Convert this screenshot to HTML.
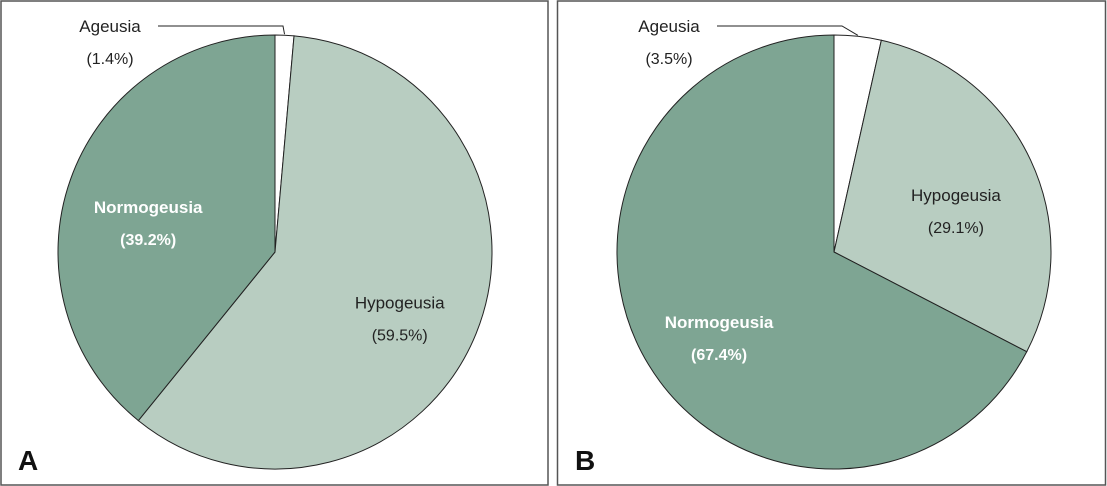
<!DOCTYPE html>
<html><head><meta charset="utf-8"><style>
body{margin:0;width:1107px;height:486px;background:#fff;overflow:hidden}
svg{display:block;font-family:"Liberation Sans",sans-serif}
</style></head><body>
<svg id="chart" width="1107" height="486">
<rect x="1" y="1" width="547" height="484" fill="none" stroke="#555" stroke-width="1.5"/>
<rect x="557.5" y="1" width="548" height="484" fill="none" stroke="#555" stroke-width="1.5"/>
<text x="18" y="470" font-size="28" font-weight="bold" fill="#111">A</text>
<text x="575" y="470" font-size="28" font-weight="bold" fill="#111">B</text>
</svg>
<script>
const categories=["Ageusia","Hypogeusia","Normogeusia"];
const valuesA=[1.4,59.5,39.2];
const valuesB=[3.5,29.1,67.4];
const colors=["#ffffff","#b8cdc1","#7ea593"];
const svg=document.getElementById('chart');
const NS="http://www.w3.org/2000/svg";
function mk(t,a){const e=document.createElementNS(NS,t);for(const k in a)e.setAttribute(k,a[k]);svg.appendChild(e);return e;}
function pt(cx,cy,r,f){const a=f*2*Math.PI;return[cx+r*Math.sin(a),cy-r*Math.cos(a)];}
function pie(vals,cx,cy,r,panel){
  const tot=vals.reduce((s,v)=>s+v,0);let acc=0;
  vals.forEach((v,i)=>{
    const f0=acc/tot,f1=(acc+v)/tot;acc+=v;
    const p0=pt(cx,cy,r,f0),p1=pt(cx,cy,r,f1);
    const large=(f1-f0)>0.5?1:0;
    const e=mk('path',{d:`M${cx},${cy}L${p0[0]},${p0[1]}A${r},${r} 0 ${large} 1 ${p1[0]},${p1[1]}Z`,fill:colors[i],stroke:'#222','stroke-width':1});
    
    
    const mid=(f0+f1)/2;
    let lx,ly,bold=false,fill='#222';
    if(i===0){
      const pe=pt(cx,cy,r,mid);
      const l=mk('polyline',{points:`${cx-117},${cy-226} ${cx+8},${cy-226} ${pe[0]},${pe[1]-1}`,fill:'none',stroke:'#222','stroke-width':1});
      
      
      lx=cx-165;ly=cy-226;
    } else {
      const pm=pt(cx,cy,r*0.62,mid);lx=pm[0];ly=pm[1];
      if(i===2){bold=true;fill='#fff';}
    }
    const t1=mk('text',{x:lx,y:ly+6,'font-size':17,'text-anchor':'middle',fill:fill,'font-weight':bold?'bold':'normal'});
    t1.textContent=categories[i];
    
    
    const t2=mk('text',{x:lx,y:ly+38,'font-size':16,'text-anchor':'middle',fill:fill,'font-weight':bold?'bold':'normal'});
    t2.textContent=`(${v.toFixed(1)}%)`;
    
    
  });
}
pie(valuesA,275,252,217,'panel-a');
pie(valuesB,834,252,217,'panel-b');
</script>
</body></html>
